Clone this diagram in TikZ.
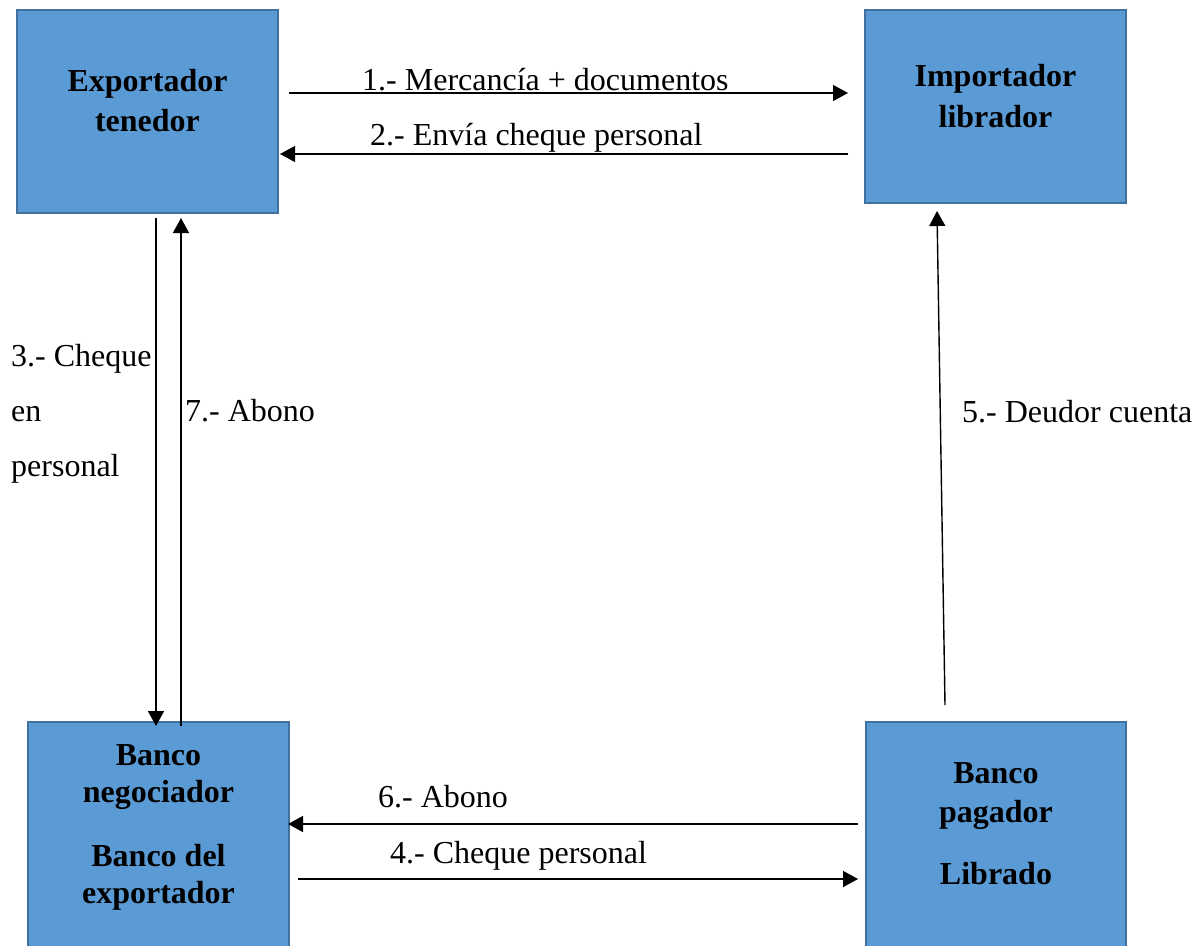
\documentclass[tikz,border=0pt]{standalone}
\usepackage{fontspec}
\setmainfont{Liberation Serif}
\usetikzlibrary{arrows.meta}
\definecolor{boxfill}{HTML}{5B9BD5}
\definecolor{boxline}{HTML}{41719C}
\tikzset{
  entity/.style={draw=boxline, line width=2pt, fill=boxfill, inner sep=0pt},
  boxtext/.style={anchor=base, inner sep=0pt, font=\fontsize{32}{40}\selectfont\bfseries},
  lbl/.style={anchor=base west, inner sep=0pt, font=\fontsize{32}{40}\selectfont},
  arr/.style={line width=1.4pt, -{Triangle[length=15pt,width=16pt]}}
}
\begin{document}
\begin{tikzpicture}[x=1pt,y=-1pt]
\clip (0,0) rectangle (1204,945);
\fill[white] (0,0) rectangle (1204,945);
% boxes
\node[entity, minimum width=261pt, minimum height=203pt] (exp) at (147.5,111.5) {};
\node[entity, minimum width=261pt, minimum height=193pt] (imp) at (995.5,106.5) {};
\node[entity, minimum width=261pt, minimum height=240pt] (bneg) at (158.5,842) {};
\node[entity, minimum width=260pt, minimum height=240pt] (bpag) at (996,842) {};
% box texts
\node[boxtext] (expA) at (147.5,91) {Exportador};
\node[boxtext] (expB) at (147.5,131) {tenedor};
\node[boxtext] (impA) at (995.5,86) {Importador};
\node[boxtext] (impB) at (995.5,127) {librador};
\node[boxtext] (bnA) at (158.5,765) {Banco};
\node[boxtext] (bnB) at (158.5,802) {negociador};
\node[boxtext] (bnC) at (158.5,866) {Banco del};
\node[boxtext] (bnD) at (158.5,903) {exportador};
\node[boxtext] (bpA) at (996,783) {Banco};
\node[boxtext] (bpB) at (996,822) {pagador};
\node[boxtext] (bpC) at (996,884) {Librado};
% connector end points
\coordinate (a1s) at (289,93);  \coordinate (a1e) at (848,93);
\coordinate (a2s) at (848,154); \coordinate (a2e) at (280,154);
\coordinate (a3s) at (156,218); \coordinate (a3e) at (156,726);
\coordinate (a7s) at (181,726); \coordinate (a7e) at (181,218);
\coordinate (a5s) at (945,705); \coordinate (a5e) at (937,211);
\coordinate (a6s) at (858,824); \coordinate (a6e) at (288,824);
\coordinate (a4s) at (298,879); \coordinate (a4e) at (858,879);
% connectors
\draw[arr] (a1s) -- (a1e);
\draw[arr] (a2s) -- (a2e);
\draw[arr] (a3s) -- (a3e);
\draw[arr] (a7s) -- (a7e);
\draw[arr] (a5s) -- (a5e);
\draw[arr] (a6s) -- (a6e);
\draw[arr] (a4s) -- (a4e);
% labels
\node[lbl] (l1) at (362,90) {1.- Mercancía + documentos};
\node[lbl] (l2) at (370,145) {2.- Envía cheque personal};
\node[lbl] (l3a) at (11,366) {3.- Cheque};
\node[lbl] (l3b) at (11,421) {en};
\node[lbl] (l3c) at (11,476) {personal};
\node[lbl] (l7) at (185,421) {7.- Abono};
\node[lbl] (l5) at (962,422) {5.- Deudor cuenta};
\node[lbl] (l6) at (378,807) {6.- Abono};
\node[lbl] (l4) at (390,863) {4.- Cheque personal};
\end{tikzpicture}
\end{document}
